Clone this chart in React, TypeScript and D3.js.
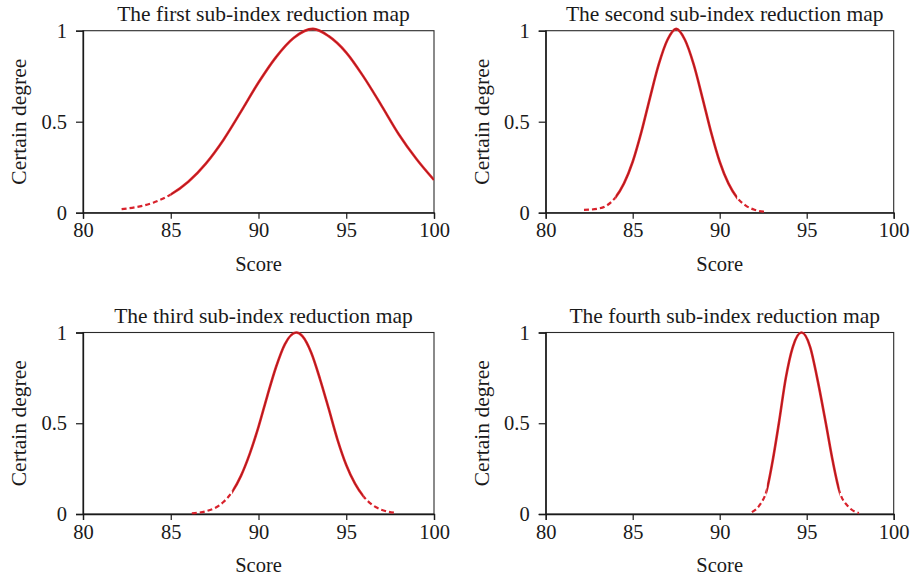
import { useEffect, useRef } from 'react';
import * as d3 from 'd3';

// Chart data
const titles = [
  'The first sub-index reduction map',
  'The second sub-index reduction map',
  'The third sub-index reduction map',
  'The fourth sub-index reduction map',
];
const xTicks = [80, 85, 90, 95, 100];
const yTicks = [0, 0.5, 1];
const yTickLabels = ['0', '0.5', '1'];

const score1 = [82.2, 83, 84, 85, 86, 87, 88, 89, 90, 91, 92, 93.1, 94, 95, 96, 97, 98, 99, 100];
const degree1 = [0.02, 0.03, 0.055, 0.1, 0.17, 0.27, 0.4, 0.555, 0.715, 0.855, 0.96, 1.01, 0.97, 0.88, 0.745, 0.59, 0.43, 0.295, 0.18];

const score2 = [82.2, 83, 83.5, 84, 84.5, 85, 85.5, 86, 86.5, 87, 87.5, 88, 88.5, 89, 89.5, 90, 90.5, 91, 91.5, 92, 92.7];
const degree2 = [0.015, 0.022, 0.039, 0.083, 0.161, 0.28, 0.444, 0.634, 0.816, 0.95, 1.01, 0.95, 0.816, 0.634, 0.444, 0.28, 0.161, 0.083, 0.039, 0.016, 0.004];

const score3 = [86.2, 87, 88, 88.5, 89, 89.5, 90, 90.5, 91, 91.5, 92.15, 92.5, 93, 93.5, 94, 94.5, 95, 95.5, 96, 96.5, 97, 97.8];
const degree3 = [0.004, 0.015, 0.066, 0.122, 0.21, 0.331, 0.48, 0.65, 0.81, 0.935, 1.0, 0.98, 0.89, 0.745, 0.58, 0.41, 0.27, 0.167, 0.095, 0.049, 0.024, 0.006];

const score4 = [91.85, 92.3, 92.7, 93.0, 93.4, 93.8, 94.2, 94.7, 95.2, 95.6, 96.1, 96.5, 96.9, 97.4, 98.0];
const degree4 = [0.01, 0.05, 0.13, 0.27, 0.5, 0.75, 0.92, 1.0, 0.92, 0.75, 0.5, 0.29, 0.12, 0.04, 0.005];

const series = [
  [score1, degree1],
  [score2, degree2],
  [score3, degree3],
  [score4, degree4],
];

// Panel frames (pixel layout)
const frames = [
  { left: 83, top: 30.7, width: 351, height: 182 },
  { left: 545.7, top: 30.7, width: 348, height: 182 },
  { left: 83, top: 332.5, width: 351, height: 181.5 },
  { left: 545.7, top: 332.5, width: 348, height: 181.5 },
];

const FONT = '"Liberation Serif", "DejaVu Serif", serif';

export default function App() {
  const svgRef = useRef<SVGSVGElement>(null);

  useEffect(() => {
    const svg = d3.select(svgRef.current);
    svg.selectAll('*').remove();
    const defs = svg.append('defs');

    frames.forEach((f, i) => {
      const [xs, ys] = series[i];
      const points = xs.map((x, k) => ({ x, y: ys[k] }));

      const x = d3.scaleLinear().domain([80, 100]).range([f.left, f.left + f.width]);
      const y = d3.scaleLinear().domain([0, 1]).range([f.top + f.height, f.top]);

      const g = svg.append('g');

      // frame box
      g.append('rect')
        .attr('x', f.left)
        .attr('y', f.top)
        .attr('width', f.width)
        .attr('height', f.height)
        .attr('fill', 'none')
        .attr('stroke', '#2a2a2a')
        .attr('stroke-width', 1.1);

      // X axis
      const xAxis = g.append('g')
        .attr('transform', `translate(0,${f.top + f.height})`)
        .call(d3.axisBottom(x).tickValues(xTicks).tickSize(6).tickPadding(4).tickFormat(d3.format('d')));
      xAxis.select('.domain').attr('stroke', '#1a1a1a').attr('stroke-width', 1.3);
      xAxis.selectAll('line').attr('stroke', '#1a1a1a').attr('stroke-width', 1.2);
      xAxis.selectAll('text')
        .style('font-family', FONT)
        .style('font-size', '20.5px')
        .attr('fill', '#1a1a1a');

      // Y axis
      const yAxis = g.append('g')
        .attr('transform', `translate(${f.left},0)`)
        .call(d3.axisLeft(y).tickValues(yTicks).tickSize(7).tickPadding(9).tickFormat((d, k) => yTickLabels[k]));
      yAxis.select('.domain').attr('stroke', '#1a1a1a').attr('stroke-width', 1.3);
      yAxis.selectAll('line').attr('stroke', '#1a1a1a').attr('stroke-width', 1.2);
      yAxis.selectAll('text')
        .style('font-family', FONT)
        .style('font-size', '20.5px')
        .attr('fill', '#1a1a1a');

      // title
      g.append('text')
        .attr('x', f.left + f.width / 2 + 5)
        .attr('y', f.top - 10)
        .attr('text-anchor', 'middle')
        .style('font-family', FONT)
        .style('font-size', '21.5px')
        .attr('fill', '#1a1a1a')
        .text(titles[i]);

      // axis titles
      g.append('text')
        .attr('x', f.left + f.width / 2)
        .attr('y', f.top + f.height + 58)
        .attr('text-anchor', 'middle')
        .style('font-family', FONT)
        .style('font-size', '20.5px')
        .attr('fill', '#1a1a1a')
        .text('Score');

      g.append('text')
        .attr('transform', `translate(${f.left - 57},${f.top + f.height / 2}) rotate(-90)`)
        .attr('text-anchor', 'middle')
        .style('font-family', FONT)
        .style('font-size', '21.5px')
        .attr('fill', '#1a1a1a')
        .text('Certain degree');

      // curve: one smooth path, solid body and dashed sparse tails via clipping
      const line = d3.line<{ x: number; y: number }>()
        .x((d) => x(d.x))
        .y((d) => y(d.y))
        .curve(d3.curveMonotoneX);
      const d = line(points);

      const thr = 0.08;
      const first = points.findIndex((p) => p.y >= thr);
      let last = points.length - 1;
      while (last > 0 && points[last].y < thr) last--;
      const xa = x(points[first].x);
      const xb = x(points[last].x);

      const bodyId = `body-${i}`;
      const tailId = `tail-${i}`;
      defs.append('clipPath').attr('id', bodyId)
        .append('rect')
        .attr('x', xa).attr('y', f.top - 10)
        .attr('width', xb - xa).attr('height', f.height + 20);
      const tc = defs.append('clipPath').attr('id', tailId);
      tc.append('rect')
        .attr('x', f.left - 5).attr('y', f.top - 10)
        .attr('width', xa - f.left + 5).attr('height', f.height + 20);
      tc.append('rect')
        .attr('x', xb).attr('y', f.top - 10)
        .attr('width', f.left + f.width + 5 - xb).attr('height', f.height + 20);

      g.append('path')
        .attr('d', d)
        .attr('clip-path', `url(#${tailId})`)
        .attr('fill', 'none')
        .attr('stroke', '#d8222c')
        .attr('stroke-width', 2.2)
        .attr('stroke-dasharray', '5 3');

      const body = g.append('g').attr('clip-path', `url(#${bodyId})`);
      body.append('path')
        .attr('d', d)
        .attr('fill', 'none')
        .attr('stroke', '#e3252b')
        .attr('stroke-width', 2.6);
      body.append('path')
        .attr('d', d)
        .attr('fill', 'none')
        .attr('stroke', '#5a1010')
        .attr('stroke-opacity', 0.6)
        .attr('stroke-width', 0.8);
    });
  }, []);

  return (
    <svg
      ref={svgRef}
      width={912}
      height={580}
      style={{ position: 'absolute', left: 0, top: 0, background: '#fff' }}
    />
  );
}
